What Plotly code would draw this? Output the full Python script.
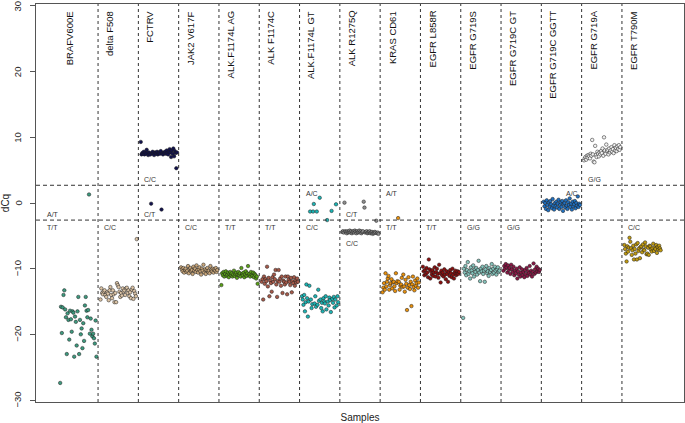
import plotly.graph_objects as go

group_names = ["BRAFV600E", "delta F508", "FCTRV", "JAK2 V617F", "ALK.F1174L AG",
               "ALK F1174C", "ALK.F1174L GT", "ALK R1275Q", "KRAS CD61", "EGFR L858R",
               "EGFR G719S", "EGFR G719C GT", "EGFR G719C GGTT", "EGFR G719A", "EGFR T790M"]

group_colors = ["#3d9a7f", "#dcc4a6", "#12124e", "#c9a77c", "#5aa018",
                "#a65a4a", "#1cb5b5", "#8c8c8c", "#e8900c", "#8a1010",
                "#86c4bc", "#8a1846", "#2070c0", "#f2f2f2", "#c09a10"]

braf_v600e = [-27.4, -15.8, -19.8, -15.9, -14.0, -13.3, -16.2, -17.4, -23.0, -16.8, -17.8, -20.8,
              -16.4, -17.7, -19.6, -16.5, -16.7, -23.4, -17.3, -18.1, -21.7, -16.5, -14.3, -23.0,
              -17.8, -20.0, -19.1, -22.1, -18.3, -21.0, -15.6, -14.3, -16.4, -17.4, -16.3, 1.3,
              -19.9, -17.6, -19.3, -20.3, -19.9, -20.6, -21.4, -17.9, -23.4]
delta_f508 = [-14.7, -13.0, -13.7, -13.9, -13.5, -13.3, -14.0, -14.3, -13.6, -13.8, -14.8, -13.3,
              -12.8, -14.0, -14.5, -13.3, -13.9, -15.1, -13.7, -15.1, -12.2, -12.5, -12.8, -13.5,
              -14.3, -13.7, -14.1, -13.0, -13.5, -13.3, -14.0, -13.0, -12.9, -13.7, -13.3, -14.2,
              -13.6, -14.5, -13.2, -12.9, -14.6, -13.4, -13.8, -14.2, -5.5]
fctrv = [9.3, 7.4, 7.6, 7.5, 7.8, 7.4, 7.7, 7.5, 8.1, 7.6, 7.3, 7.7, 7.5, 7.4, -0.1, 7.6, 7.8,
         7.5, 7.3, 7.7, 7.6, 7.5, 7.8, 7.4, 7.6, 7.7, 7.5, 7.9, -1.0, 7.6, 7.4, 7.7, 7.6, 7.8,
         7.5, 8.0, 7.6, 7.4, 7.8, 8.2, 7.7, 7.0, 8.0, 7.5, 8.3, 7.1, 7.9, 7.6, 5.3, 7.7]
jak2_v617f = [-9.8, -10.1, -10.4, -9.9, -10.6, -10.2, -10.0, -10.5, -10.3, -9.6, -10.7, -10.1,
              -9.9, -10.4, -10.2, -10.8, -9.7, -10.3, -10.0, -10.5, -9.5, -10.2, -10.6, -10.1,
              -9.8, -10.4, -10.9, -10.0, -10.3, -9.4, -10.6, -10.1, -10.8, -10.2, -9.9, -10.5,
              -10.3, -10.7, -9.6, -10.2, -10.4, -10.0, -10.6, -10.1, -10.3, -9.9, -10.5, -10.2]
alk_f1174l_ag = [-12.5, -10.7, -11.0, -10.5, -11.2, -10.8, -10.4, -11.1, -10.9, -10.6, -11.3,
                 -10.8, -10.5, -11.0, -10.7, -11.2, -10.9, -10.3, -11.1, -10.8, -10.6, -11.4,
                 -10.9, -10.5, -11.0, -10.7, -11.2, -9.9, -10.8, -11.0, -10.6, -11.3, -10.9,
                 -10.4, -11.1, -10.7, -9.6, -11.0, -10.8, -11.2, -10.5, -10.9, -11.1, -10.6,
                 -11.3, -10.8, -11.0, -11.5, -11.2, -12.3]
alk_f1174c = [-12.0, -11.6, -14.7, -11.2, -12.3, -11.6, -11.9, -9.7, -12.7, -11.4, -14.2, -11.8,
              -12.2, -13.5, -11.3, -12.0, -10.9, -11.6, -10.2, -12.4, -14.3, -11.9, -10.2, -12.0,
              -11.5, -12.6, -11.2, -13.7, -11.8, -12.0, -12.4, -11.2, -12.1, -13.9, -11.2, -11.7,
              -12.0, -12.5, -11.4, -13.6, -11.9, -12.2, -11.3, -12.6, -11.8, -12.1, -11.5, -12.0]
alk_f1174l_gt = [-14.2, -14.7, -15.5, -14.0, -16.5, -15.1, -12.4, -14.5, -17.3, -15.0, -12.6, -1.3,
                 -14.7, -16.0, -15.4, -1.3, -0.15, -15.3, -14.2, -15.8, -1.3, -15.5, -13.2, -14.9,
                 0.8, -14.7, -16.0, -15.2, -16.5, -14.5, -15.0, -15.3, -14.2, -16.2, -2.6, -15.0,
                 -15.6, -14.4, -14.8, -16.6, -1.2, -14.6, -15.2, -14.3, -15.9, -14.7, -0.2, -15.6,
                 -14.2, -15.1]
alk_r1275q = [-4.4, -4.3, -4.5, 0.05, -4.3, -4.4, -4.6, -4.3, -4.5, -4.4, -4.2, -4.5, -4.3, -4.6,
              -4.4, -4.3, -4.5, -4.2, -4.4, -4.6, -4.3, -4.5, -4.4, -4.2, -4.5, -4.3, -4.6, -4.4,
              -4.3, 0.2, -0.7, -4.5, -4.4, -4.3, -4.6, -4.5, -4.4, -4.3, -4.6, -4.5, -4.4, -4.7,
              -4.5, -4.6, -4.4, -4.5, -2.7, -4.6, -4.5, -4.7]
kras_cd61 = [-13.6, -12.9, -12.2, -13.2, -10.7, -12.7, -12.0, -11.5, -11.1, -13.2, -12.5, -12.2,
             -11.6, -13.0, -12.1, -12.0, -12.7, -13.4, -10.7, -12.2, -11.9, -2.3, -12.0, -13.2,
             -12.6, -12.4, -11.4, -12.8, -10.9, -12.7, -13.5, -11.7, -12.3, -16.3, -12.9, -11.3,
             -12.5, -13.1, -12.0, -15.7, -12.4, -11.2, -12.8, -13.3, -11.8, -12.6, -12.2, -11.5,
             -12.9, -12.1]
egfr_l858r = [-9.7, -10.4, -11.0, -10.2, -10.8, -9.9, -10.6, -11.3, -8.6, -10.1, -11.5, -10.4,
              -10.9, -10.2, -11.1, -10.6, -9.8, -11.2, -10.5, -10.0, -10.8, -11.4, -9.4, -10.7,
              -12.1, -10.3, -11.0, -10.6, -11.2, -10.1, -10.9, -11.6, -10.4, -10.8, -12.0, -10.5,
              -11.1, -10.2, -10.7, -11.3, -10.0, -10.9, -11.5, -10.6, -10.3, -11.0, -10.7, -10.4,
              -10.8, -10.5]
egfr_g719s = [-17.5, -10.0, -10.6, -9.6, -11.0, -10.2, -9.0, -10.8, -10.4, -11.5, -9.8, -10.3,
              -10.7, -9.5, -11.2, -10.1, -10.5, -9.9, -10.9, -10.2, -8.8, -10.6, -11.9, -10.0,
              -10.4, -9.7, -10.8, -10.3, -12.0, -10.1, -9.6, -10.7, -10.4, -11.1, -9.9, -10.5,
              -10.2, -9.3, -10.8, -10.0, -10.6, -9.7, -10.3, -10.9, -10.1, -9.8, -10.5, -10.3]
egfr_g719c_gt = [-10.3, -9.6, -10.0, -9.3, -9.8, -10.6, -9.5, -10.2, -9.9, -10.8, -9.4, -10.1,
                 -10.5, -9.7, -11.0, -10.3, -10.7, -10.0, -11.5, -10.4, -10.9, -9.8, -11.2, -10.6,
                 -10.1, -11.0, -10.5, -11.3, -10.2, -10.8, -9.9, -11.1, -10.4, -10.7, -9.6, -10.9,
                 -10.3, -11.2, -10.5, -9.2, -10.8, -10.1, -10.6, -9.7, -10.4, -10.0, -10.5, -10.2]
egfr_g719c_ggtt = [0.2, -0.5, 0.0, -0.9, 0.4, -0.3, -1.1, 0.1, -0.6, 0.3, -0.2, -0.8, 0.6, -0.4,
                   -1.0, 0.0, -0.5, 0.2, -0.7, -0.1, 0.5, -0.9, -0.3, 0.1, -0.6, 0.3, -1.2, -0.2,
                   0.0, -0.7, 0.4, -0.4, -0.9, 0.1, -0.3, 0.7, -0.6, -0.1, -1.0, 0.2, -0.5, -0.2,
                   0.3, -0.8, 0.0, -0.4, 1.0, -0.6, -0.1, -0.3]
egfr_g719a = [6.5, 6.8, 7.0, 6.6, 7.2, 6.9, 7.3, 7.1, 6.8, 7.5, 7.2, 9.6, 7.4, 6.3, 6.2, 8.7, 7.3,
              7.0, 7.8, 7.5, 7.1, 7.7, 7.4, 7.9, 7.6, 8.3, 7.2, 10.0, 8.0, 7.5, 8.9, 7.9, 8.1, 7.4,
              8.3, 7.7, 8.0, 8.5, 7.8, 8.2, 7.6, 8.8, 8.0, 8.4, 7.9, 8.6, 8.2, 8.8, 8.1, 8.5]
egfr_t790m = [-6.4, -7.0, -7.7, -8.9, -6.6, -7.4, -6.8, -5.3, -5.9, -6.9, -7.9, -7.2, -6.5, -8.6,
              -7.0, -7.7, -6.3, -8.6, -6.1, -7.3, -6.9, -8.4, -6.7, -6.6, -7.5, -6.3, -7.1, -7.2,
              -6.0, -6.6, -7.8, -7.7, -6.8, -7.9, -6.5, -6.6, -7.1, -7.4, -6.9, -6.2, -7.3, -6.8,
              -7.0, -6.4, -7.6, -6.7, -7.1, -6.5, -6.9, -7.2]

group_values = [braf_v600e, delta_f508, fctrv, jak2_v617f, alk_f1174l_ag, alk_f1174c,
                alk_f1174l_gt, alk_r1275q, kras_cd61, egfr_l858r, egfr_g719s, egfr_g719c_gt,
                egfr_g719c_ggtt, egfr_g719a, egfr_t790m]

# genotype labels
genotype_group = [0, 0, 1, 2, 2, 3, 4, 5, 6, 6, 7, 7, 8, 8, 9, 10, 11, 12, 13, 14]
genotype_text = ["A/T", "T/T", "C/C", "C/C", "C/T", "C/C", "T/T", "T/T", "A/C", "C/C",
                 "C/T", "C/C", "A/T", "T/T", "T/T", "G/G", "G/G", "A/C", "G/G", "C/C"]
genotype_y = [-1.8, -3.8, -3.8, 3.65, -1.8, -3.8, -3.8, -3.8, 1.5, -3.8,
              -1.8, -6.2, 1.5, -3.8, -3.8, -3.8, -3.8, 1.5, 3.65, -3.8]

upper_cut = 2.7
lower_cut = -2.6

y_ticks = [-30, -20, -10, 0, 10, 20, 30]
y_tick_text = ["−30", "−20", "−10", "0", "10", "20", "30"]

fig = go.Figure()
for g, vals in enumerate(group_values):
    n = len(vals)
    xs = [g + 0.06 + 0.9 * i / (n - 1) for i in range(n)]
    fig.add_trace(go.Scatter(
        x=xs, y=vals, mode="markers", showlegend=False, cliponaxis=False, hoverinfo="skip",
        marker=dict(size=3.5, color=group_colors[g], line=dict(color="#1a1a1a", width=0.5)),
    ))

font_family = "Liberation Sans, Arial, sans-serif"

for g, name in enumerate(group_names):
    fig.add_annotation(x=g + 0.29, y=0.988, xref="x", yref="paper", text=name,
                       textangle=-90, showarrow=False, xanchor="center", yanchor="top",
                       font=dict(size=9.5, color="#111", family=font_family))
    if g > 0:
        fig.add_shape(type="line", x0=g, x1=g, y0=0, y1=1, xref="x", yref="paper",
                      line=dict(color="#333", width=1, dash="3px,3px"))

for gi, txt, yy in zip(genotype_group, genotype_text, genotype_y):
    if gi == 0:
        xx, anc = -0.32, "left"
    elif txt == "A/C" and gi == 12:
        xx, anc = gi + 0.96, "right"
    else:
        xx, anc = gi + 0.1, "left"
    fig.add_annotation(x=xx, y=yy, xref="x", yref="y", text=txt, showarrow=False,
                       xanchor=anc, yanchor="middle",
                       font=dict(size=7, color="#333", family=font_family))

for yy in (upper_cut, lower_cut):
    fig.add_shape(type="line", x0=0, x1=1, y0=yy, y1=yy, xref="paper", yref="y",
                  line=dict(color="#333", width=1, dash="4px,3px"))

# y tick labels drawn as rotated text (R style)
for tv, tt in zip(y_ticks, y_tick_text):
    fig.add_annotation(x=0, y=tv, xref="paper", yref="y", text=tt, textangle=-90,
                       showarrow=False, xanchor="right", yanchor="middle", xshift=-11,
                       font=dict(size=9.5, color="#222", family=font_family))

fig.update_layout(
    width=685, height=423,
    margin=dict(l=36, r=1, t=4, b=21),
    paper_bgcolor="white", plot_bgcolor="white",
    font=dict(family=font_family, color="#222", size=10),
    xaxis=dict(range=[-0.54, 15.54], showticklabels=False, ticks="", showgrid=False,
               zeroline=False, showline=True, mirror=True, linecolor="#555", linewidth=1,
               automargin=False,
               title=dict(text="Samples", standoff=11, font=dict(size=10))),
    yaxis=dict(range=[-30.3, 30.3], tickvals=y_ticks, showticklabels=False,
               ticks="outside", ticklen=5, tickcolor="#555",
               showgrid=False, zeroline=False, automargin=False,
               showline=True, mirror=True, linecolor="#555", linewidth=1,
               title=dict(text="dCq", standoff=21, font=dict(size=10))),
)

fig.write_html("out.html", config={"displayModeBar": False},
               post_script="document.body.style.margin='0';")
